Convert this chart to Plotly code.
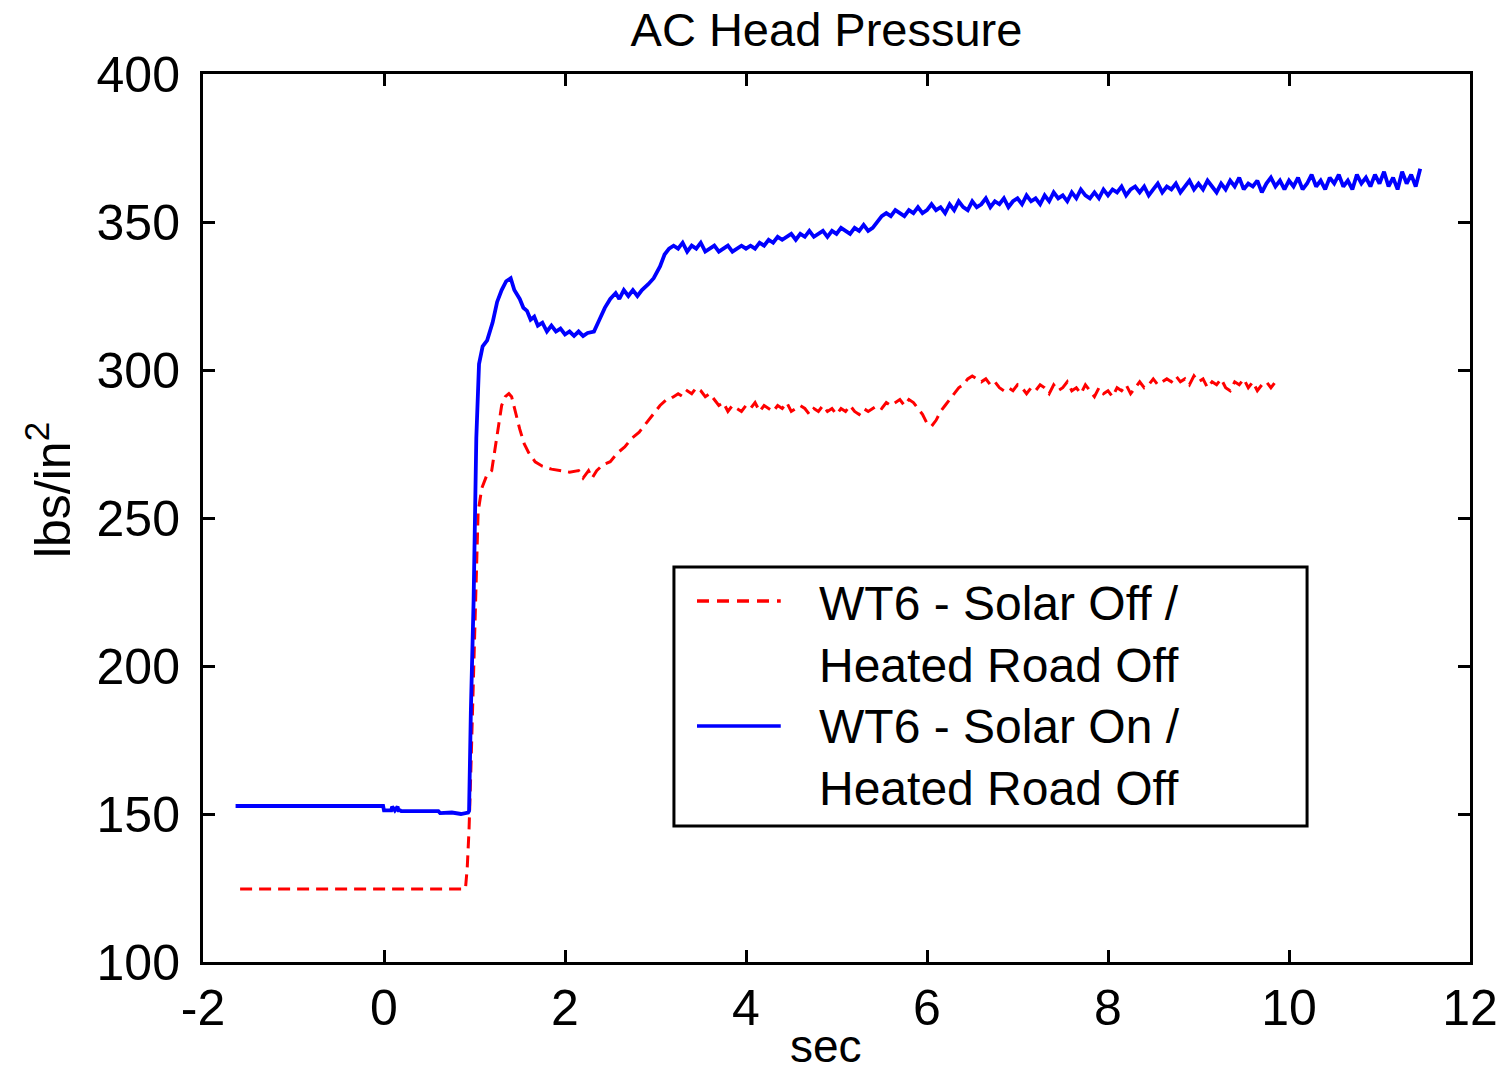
import plotly.graph_objects as go

# ---------------- data ----------------
# Red series (WT6 - Solar Off / Heated Road Off): transient part
red_t_start = [-1.59, 0.90, 0.92, 0.94, 0.96, 0.98, 1.01, 1.04, 1.08, 1.13, 1.19, 1.22,
               1.26, 1.30, 1.34, 1.38, 1.41, 1.45, 1.50, 1.55, 1.60, 1.67, 1.75, 1.85,
               1.95, 2.05, 2.15, 2.20, 2.26, 2.30, 2.35, 2.42, 2.50, 2.58, 2.66, 2.74,
               2.82, 2.90, 2.97, 3.05, 3.12]
red_p_start = [124.7, 124.7, 132, 145, 165, 185, 215, 252, 260, 264, 266, 272,
               280, 288, 291, 292, 291, 286, 280, 275, 272, 269, 267.5, 266.5,
               266, 265.5, 266, 263.5, 266, 263.5, 266, 268, 269, 272, 274, 277,
               279, 282, 285, 288, 290]
# Red series: sampled every 0.05 s from 3.15 s
red_steady_t0 = 3.15
red_steady = [290, 291, 292, 291, 293, 292, 294, 293, 291, 292,
              290, 288, 289, 286, 288, 287, 286, 288, 287, 289, 286, 288, 287, 286, 288, 287, 289, 286, 287, 288,
              287, 285, 287, 286, 288, 286, 287, 285, 287, 286, 288, 286, 285, 287, 286, 287, 288, 287, 289, 288,
              289, 290, 288, 290, 289, 287, 285, 282, 281, 283, 286, 288, 290, 292, 294, 295, 297, 298, 297, 296,
              297, 295, 296, 294, 293, 294, 293, 295, 294, 292, 294, 293, 295, 294, 292, 295, 293, 294, 296, 293,
              294, 292, 295, 293, 291, 294, 292, 293, 291, 294, 293, 295, 292, 294, 296, 294, 295, 297, 295, 296,
              297, 296, 298, 296, 297, 295, 298, 296, 297, 294, 296, 295, 297, 294, 293, 296, 295, 297, 294, 296,
              293, 295, 296, 294, 296, 295]

# Blue series (WT6 - Solar On / Heated Road Off): transient part
blue_t_start = [-1.64, -0.01, 0.00, 0.08, 0.09, 0.11, 0.12, 0.15, 0.16, 0.18, 0.19, 0.60,
                0.62, 0.75, 0.85, 0.93, 0.94, 0.96, 0.99, 1.02, 1.05, 1.09, 1.14, 1.20,
                1.25, 1.30, 1.35, 1.40, 1.44, 1.50, 1.54, 1.58, 1.62, 1.66, 1.70, 1.75,
                1.80, 1.85, 1.90, 1.95, 2.00, 2.05, 2.10, 2.15, 2.20, 2.25, 2.32, 2.38,
                2.44, 2.50, 2.56, 2.60, 2.65, 2.70, 2.75, 2.80, 2.85, 2.92, 2.98,
                3.05, 3.10, 3.15]
blue_p_start = [152.7, 152.7, 151.2, 151.2, 152.5, 151.2, 151.2, 152.5, 151.2, 151.2, 151.0, 151.0,
                150.3, 150.5, 150.0, 150.5, 151, 185, 222, 277, 302, 308, 310, 316,
                323, 327, 330, 331, 327, 324, 321, 320, 317, 318, 315, 316,
                313, 315, 313, 314, 312, 313, 311.5, 313, 311.5, 312.5, 313, 317,
                321, 324, 326, 324, 327, 325, 327, 325, 327, 329, 331,
                335, 339, 341]
# Blue series: sampled every 0.05 s from 3.20 s
blue_steady_t0 = 3.20
blue_steady = [342, 341, 343, 340, 342, 341, 343, 340, 341, 342, 340, 341, 342, 340, 341, 342,
               341, 342, 341, 343, 342, 344, 343, 345, 344, 345, 346, 344, 346, 345, 347, 345, 346, 347, 345, 347,
               346, 348, 347, 346, 348, 347, 349, 347, 348, 350, 352, 353, 352, 354, 353, 352, 354, 353, 355, 353,
               354, 356, 354, 355, 353, 356, 354, 357, 355, 354, 357, 355, 356, 358, 355, 357, 356, 358, 355, 357,
               358, 356, 359, 357, 358, 356, 359, 357, 360, 358, 359, 357, 360, 358, 361, 359, 358, 360, 358, 361,
               359, 361, 360, 362, 359, 361, 362, 360, 362, 359, 361, 363, 360, 362, 361, 363, 360, 362, 364, 361,
               363, 361, 364, 362, 360, 363, 361, 364, 362, 365, 361, 363, 362, 364, 360, 363, 365, 362, 364, 361,
               364, 362, 365, 361, 363, 366, 362, 364, 361, 365, 363, 366, 362, 364, 361, 366, 363, 365, 362, 366,
               363, 367, 362, 365, 361, 367, 363, 366, 362, 368]

series_names = ["WT6 - Solar Off /<br>Heated Road Off",
                "WT6 - Solar On /<br>Heated Road Off"]
x_ticks = [-2, 0, 2, 4, 6, 8, 10, 12]
x_tick_text = ["-2", "0", "2", "4", "6", "8", "10", "12"]
y_ticks = [100, 150, 200, 250, 300, 350, 400]

# sample time bases for the steadily-sampled parts
red_t = red_t_start + [round(red_steady_t0 + 0.05 * i, 2) for i in range(len(red_steady))]
red_p = red_p_start + red_steady
blue_t = blue_t_start + [round(blue_steady_t0 + 0.05 * i, 2) for i in range(len(blue_steady))]
blue_p = blue_p_start + blue_steady

FONT = "Liberation Sans, Arial, Helvetica, sans-serif"
RED, BLUE = "#ff0000", "#0000ff"

fig = go.Figure()
fig.add_trace(go.Scatter(x=red_t, y=red_p, mode="lines", name=series_names[0], showlegend=False,
                         line=dict(color=RED, width=3, dash="12px,7px")))
fig.add_trace(go.Scatter(x=blue_t, y=blue_p, mode="lines", name=series_names[1], showlegend=False,
                         line=dict(color=BLUE, width=3.8)))

axis_common = dict(showline=True, linecolor="black", linewidth=3, mirror="ticks",
                   ticks="inside", ticklen=12, tickwidth=3, tickcolor="black",
                   showgrid=False, zeroline=False, automargin=False,
                   tickfont=dict(family=FONT, size=50, color="black"))

# ---- legend box (drawn in paper coordinates, MATLAB-style) ----
leg_box = dict(x0=0.3717, x1=0.8714, y0=0.1532, y1=0.4448)
leg_line_x = (0.3899, 0.4560)
leg_line_y = (0.4065, 0.2658)
leg_text_x = 0.4846
leg_text_y = (0.3690, 0.2302)

shapes = [
    dict(type="rect", xref="paper", yref="paper", line=dict(color="black", width=3),
         fillcolor="white", layer="above", **leg_box),
    dict(type="line", xref="paper", yref="paper", x0=leg_line_x[0], x1=leg_line_x[1],
         y0=leg_line_y[0], y1=leg_line_y[0], line=dict(color=RED, width=3.5, dash="12px,8px"), layer="above"),
    dict(type="line", xref="paper", yref="paper", x0=leg_line_x[0], x1=leg_line_x[1],
         y0=leg_line_y[1], y1=leg_line_y[1], line=dict(color=BLUE, width=3.5), layer="above"),
]
annotations = [
    dict(text=series_names[i], xref="paper", yref="paper", x=leg_text_x, y=leg_text_y[i],
         xanchor="left", yanchor="middle", align="left", showarrow=False,
         font=dict(family=FONT, size=48, color="black"))
    for i in range(2)
]
# axis titles
annotations.append(dict(text="sec", xref="paper", yref="paper", x=0.4918, y=-0.0946,
                        xanchor="center", yanchor="middle", showarrow=False,
                        font=dict(family=FONT, size=46, color="black")))
annotations.append(dict(text="lbs/in<sup>2</sup>", xref="paper", yref="paper", x=-0.1215, y=0.5315,
                        xanchor="center", yanchor="middle", textangle=-90, showarrow=False,
                        font=dict(family=FONT, size=50, color="black")))

fig.update_layout(
    width=1500, height=1073,
    margin=dict(l=203, r=30, t=74, b=111),
    paper_bgcolor="white", plot_bgcolor="white",
    title=dict(text="AC Head Pressure", x=0.551, xanchor="center", y=0.972, yanchor="middle",
               font=dict(family=FONT, size=47, color="black")),
    xaxis=dict(range=[-2, 12], tickvals=x_ticks, ticktext=x_tick_text, **axis_common),
    yaxis=dict(range=[100, 400], tickvals=y_ticks, ticklabelstandoff=10, **axis_common),
    shapes=shapes,
    annotations=annotations,
    showlegend=False,
)

fig.write_html("out.html", config={"displayModeBar": False},
               post_script="document.body.style.margin='0px';document.body.style.padding='0px';"
                           "document.body.style.overflow='hidden';")
